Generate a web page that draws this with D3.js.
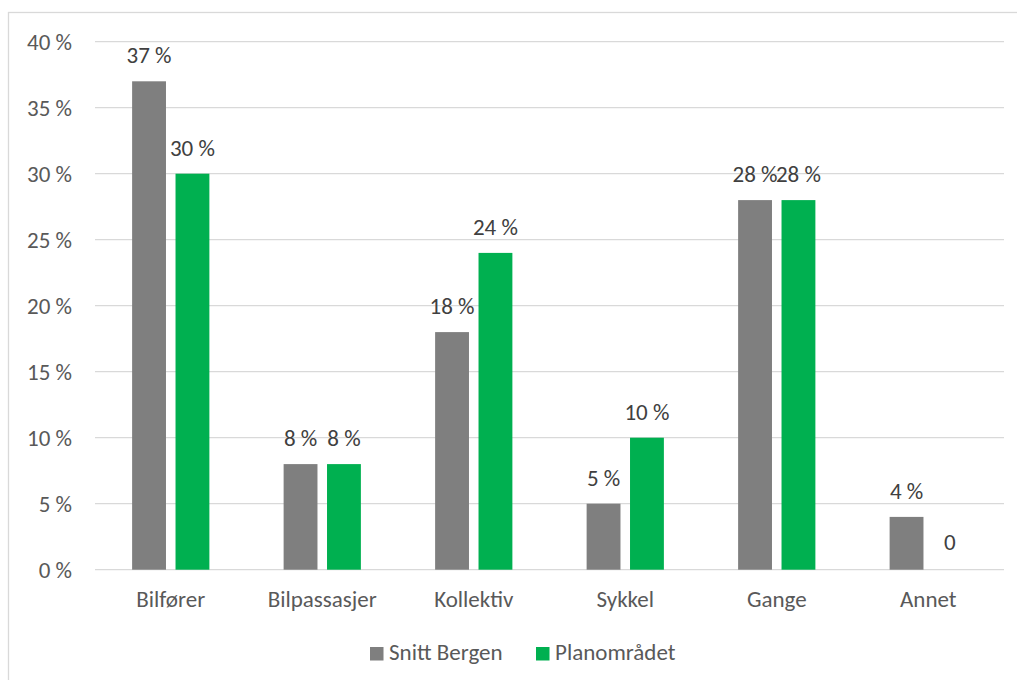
<!DOCTYPE html>
<html>
<head>
<meta charset="utf-8">
<script src="https://cdn.jsdelivr.net/npm/d3@7"></script>
<style>
  html, body { margin: 0; padding: 0; background: #fff; }
  svg { display: block; font-family: Carlito, Calibri, Lato, "Open Sans", sans-serif; }
</style>
</head>
<body>
<svg id="chart" width="1017" height="680"></svg>
<script>
// Reisemiddelfordeling: Snitt Bergen vs. Planområdet
const categories = ["Bilfører", "Bilpassasjer", "Kollektiv", "Sykkel", "Gange", "Annet"];
const seriesNames = ["Snitt Bergen", "Planområdet"];
const snittBergen = [37, 8, 18, 5, 28, 4];
const planomradet = [30, 8, 24, 10, 28, 0];
const yTicks = [0, 5, 10, 15, 20, 25, 30, 35, 40];
const colors = ["#7f7f7f", "#00b050"];

const FONT = 23;
const svg = d3.select("#chart");
const W = 1017, H = 680;
const plot = { left: 95, right: 1004, top: 41.7, bottom: 569.7 };

// outer chart frame
svg.append("rect")
  .attr("x", 8.5).attr("y", 12.5)
  .attr("width", W + 10).attr("height", H + 10)
  .attr("fill", "#fff").attr("stroke", "#d9d9d9").attr("stroke-width", 1.3);

const x0 = d3.scaleBand().domain(categories).range([plot.left, plot.right]).paddingInner(0.49).paddingOuter(0.245);
const x1 = d3.scaleBand().domain(seriesNames).range([0, x0.bandwidth()]).paddingInner(0.22);
const y = d3.scaleLinear().domain([0, 40]).range([plot.bottom, plot.top]);

// gridlines
svg.append("g").selectAll("line").data(yTicks).join("line")
  .attr("x1", plot.left).attr("x2", plot.right)
  .attr("y1", d => y(d)).attr("y2", d => y(d))
  .attr("stroke", "#d9d9d9").attr("stroke-width", 1.3);

// y axis labels
const yAxis = d3.axisLeft(y).tickValues(yTicks).tickSize(0).tickPadding(0)
  .tickFormat(d => d + " %");
svg.append("g").attr("transform", `translate(${plot.left - 23},0)`).call(yAxis)
  .attr("font-family", null).attr("font-size", null)
  .call(g => g.select(".domain").remove())
  .call(g => g.selectAll("text").attr("fill", "#595959").attr("font-size", FONT).attr("dy", "0.35em"));

// x axis labels
const xAxis = d3.axisBottom(x0).tickSize(0).tickPadding(0);
svg.append("g").attr("transform", `translate(0,${plot.bottom + 37})`).call(xAxis)
  .attr("font-family", null).attr("font-size", null)
  .call(g => g.select(".domain").remove())
  .call(g => g.selectAll("text").attr("fill", "#595959").attr("font-size", FONT).attr("dy", 0));

const rows = categories.map((c, i) => ({ cat: c, vals: [snittBergen[i], planomradet[i]] }));

const groups = svg.append("g").selectAll("g").data(rows).join("g")
  .attr("transform", d => `translate(${x0(d.cat)},0)`);

groups.selectAll("rect").data(d => d.vals.map((v, j) => ({ v, s: seriesNames[j], j })))
  .join("rect")
  .attr("x", d => x1(d.s))
  .attr("width", x1.bandwidth())
  .attr("y", d => y(d.v))
  .attr("height", d => y(0) - y(d.v))
  .attr("fill", d => colors[d.j]);

// value labels
groups.selectAll("text").data(d => d.vals.map((v, j) => ({ v, s: seriesNames[j], j })))
  .join("text")
  .attr("x", d => x1(d.s) + x1.bandwidth() / 2)
  .attr("y", d => y(d.v) - (d.v === 0 ? 20 : 18))
  .attr("text-anchor", "middle")
  .attr("fill", "#404040")
  .attr("font-size", FONT)
  .text(d => d.v === 0 ? "0" : d.v + " %");

// legend
const legend = svg.append("g").attr("transform", "translate(370,647)");
const legendX = [0, 166];
seriesNames.forEach((name, i) => {
  const g = legend.append("g").attr("transform", `translate(${legendX[i]},0)`);
  g.append("rect").attr("width", 13.5).attr("height", 13.5).attr("fill", colors[i]);
  g.append("text").attr("x", 19).attr("y", 13).attr("fill", "#595959")
    .attr("font-size", FONT).text(name);
});
</script>
</body>
</html>
